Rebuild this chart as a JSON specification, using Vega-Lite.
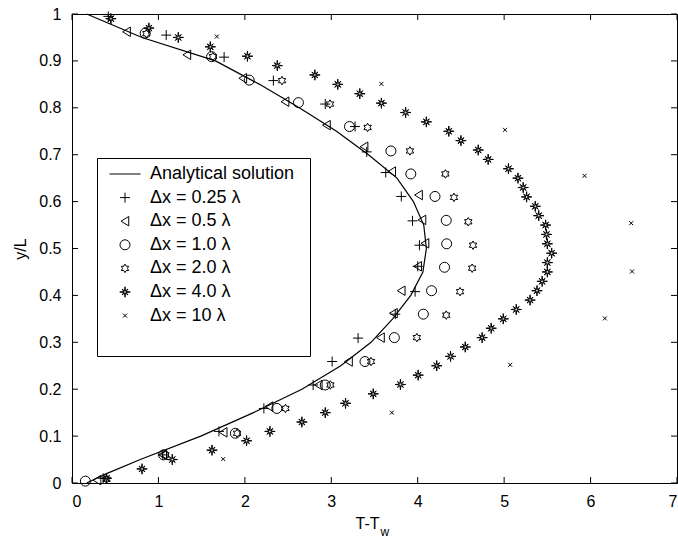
{
  "$schema": "https://vega.github.io/schema/vega-lite/v6.json",
  "width": 605,
  "height": 469,
  "autosize": {"type": "none"},
  "padding": {"left": 72, "top": 14, "right": 1, "bottom": 58},
  "background": "white",
  "config": {
    "font": "Liberation Sans",
    "view": {"stroke": "black", "strokeWidth": 1},
    "scale": {"continuousPadding": 0},
    "axis": {
      "domain": false,
      "ticks": false,
      "tickSize": 0,
      "grid": false,
      "labelColor": "black",
      "labelFontSize": 16,
      "labelFont": "Liberation Sans",
      "titleFont": "Liberation Sans",
      "titleFontSize": 16,
      "titleFontWeight": "normal",
      "titleColor": "black"
    }
  },
  "datasets": {
    "xticks": [{"v": 0}, {"v": 1}, {"v": 2}, {"v": 3}, {"v": 4}, {"v": 5}, {"v": 6}, {"v": 7}],
    "yticks": [{"v": 0}, {"v": 0.1}, {"v": 0.2}, {"v": 0.3}, {"v": 0.4}, {"v": 0.5}, {"v": 0.6}, {"v": 0.7}, {"v": 0.8}, {"v": 0.9}, {"v": 1}],
    "curve": [
      {"x": 0.17, "y": 0}, {"x": 0.40, "y": 0.02}, {"x": 0.79, "y": 0.05}, {"x": 1.49, "y": 0.1},
      {"x": 2.10, "y": 0.15}, {"x": 2.66, "y": 0.2}, {"x": 3.11, "y": 0.25}, {"x": 3.46, "y": 0.3},
      {"x": 3.71, "y": 0.35}, {"x": 3.92, "y": 0.4}, {"x": 4.06, "y": 0.45}, {"x": 4.10, "y": 0.5},
      {"x": 4.07, "y": 0.55}, {"x": 3.95, "y": 0.6}, {"x": 3.76, "y": 0.65}, {"x": 3.43, "y": 0.7},
      {"x": 3.06, "y": 0.75}, {"x": 2.63, "y": 0.8}, {"x": 2.17, "y": 0.85}, {"x": 1.66, "y": 0.9},
      {"x": 0.81, "y": 0.95}, {"x": 0.17, "y": 1}
    ],
    "pts": [
      {"series": "Δx = 0.25 λ", "x": 0.36, "y": 0.01},
      {"series": "Δx = 0.25 λ", "x": 1.05, "y": 0.06},
      {"series": "Δx = 0.25 λ", "x": 1.70, "y": 0.11},
      {"series": "Δx = 0.25 λ", "x": 2.22, "y": 0.159},
      {"series": "Δx = 0.25 λ", "x": 2.79, "y": 0.209},
      {"series": "Δx = 0.25 λ", "x": 3.01, "y": 0.259},
      {"series": "Δx = 0.25 λ", "x": 3.31, "y": 0.309},
      {"series": "Δx = 0.25 λ", "x": 3.74, "y": 0.36},
      {"series": "Δx = 0.25 λ", "x": 3.97, "y": 0.408},
      {"series": "Δx = 0.25 λ", "x": 4.00, "y": 0.462},
      {"series": "Δx = 0.25 λ", "x": 4.02, "y": 0.507},
      {"series": "Δx = 0.25 λ", "x": 3.94, "y": 0.559},
      {"series": "Δx = 0.25 λ", "x": 3.81, "y": 0.611},
      {"series": "Δx = 0.25 λ", "x": 3.63, "y": 0.662},
      {"series": "Δx = 0.25 λ", "x": 3.41, "y": 0.706},
      {"series": "Δx = 0.25 λ", "x": 3.275, "y": 0.76},
      {"series": "Δx = 0.25 λ", "x": 2.93, "y": 0.808},
      {"series": "Δx = 0.25 λ", "x": 2.33, "y": 0.858},
      {"series": "Δx = 0.25 λ", "x": 1.76, "y": 0.908},
      {"series": "Δx = 0.25 λ", "x": 1.09, "y": 0.955},
      {"series": "Δx = 0.25 λ", "x": 0.42, "y": 0.995},

      {"series": "Δx = 0.5 λ", "x": 0.29, "y": 0.006},
      {"series": "Δx = 0.5 λ", "x": 1.05, "y": 0.06},
      {"series": "Δx = 0.5 λ", "x": 1.75, "y": 0.108},
      {"series": "Δx = 0.5 λ", "x": 2.28, "y": 0.163},
      {"series": "Δx = 0.5 λ", "x": 2.85, "y": 0.209},
      {"series": "Δx = 0.5 λ", "x": 3.20, "y": 0.259},
      {"series": "Δx = 0.5 λ", "x": 3.57, "y": 0.31},
      {"series": "Δx = 0.5 λ", "x": 3.72, "y": 0.362},
      {"series": "Δx = 0.5 λ", "x": 3.81, "y": 0.41},
      {"series": "Δx = 0.5 λ", "x": 4.00, "y": 0.462},
      {"series": "Δx = 0.5 λ", "x": 4.085, "y": 0.511},
      {"series": "Δx = 0.5 λ", "x": 4.05, "y": 0.561},
      {"series": "Δx = 0.5 λ", "x": 4.01, "y": 0.614},
      {"series": "Δx = 0.5 λ", "x": 3.70, "y": 0.664},
      {"series": "Δx = 0.5 λ", "x": 3.38, "y": 0.717},
      {"series": "Δx = 0.5 λ", "x": 2.945, "y": 0.763},
      {"series": "Δx = 0.5 λ", "x": 2.466, "y": 0.813},
      {"series": "Δx = 0.5 λ", "x": 1.977, "y": 0.863},
      {"series": "Δx = 0.5 λ", "x": 1.33, "y": 0.913},
      {"series": "Δx = 0.5 λ", "x": 0.632, "y": 0.962},

      {"series": "Δx = 1.0 λ", "x": 0.155, "y": 0.004},
      {"series": "Δx = 1.0 λ", "x": 1.06, "y": 0.06},
      {"series": "Δx = 1.0 λ", "x": 1.89, "y": 0.106},
      {"series": "Δx = 1.0 λ", "x": 2.37, "y": 0.159},
      {"series": "Δx = 1.0 λ", "x": 2.93, "y": 0.209},
      {"series": "Δx = 1.0 λ", "x": 3.39, "y": 0.259},
      {"series": "Δx = 1.0 λ", "x": 3.73, "y": 0.31},
      {"series": "Δx = 1.0 λ", "x": 4.065, "y": 0.36},
      {"series": "Δx = 1.0 λ", "x": 4.16, "y": 0.41},
      {"series": "Δx = 1.0 λ", "x": 4.31, "y": 0.46},
      {"series": "Δx = 1.0 λ", "x": 4.335, "y": 0.51},
      {"series": "Δx = 1.0 λ", "x": 4.33, "y": 0.56},
      {"series": "Δx = 1.0 λ", "x": 4.20, "y": 0.611},
      {"series": "Δx = 1.0 λ", "x": 3.92, "y": 0.659},
      {"series": "Δx = 1.0 λ", "x": 3.69, "y": 0.708},
      {"series": "Δx = 1.0 λ", "x": 3.21, "y": 0.76},
      {"series": "Δx = 1.0 λ", "x": 2.62, "y": 0.811},
      {"series": "Δx = 1.0 λ", "x": 2.05, "y": 0.859},
      {"series": "Δx = 1.0 λ", "x": 1.615, "y": 0.909},
      {"series": "Δx = 1.0 λ", "x": 0.847, "y": 0.959},

      {"series": "Δx = 2.0 λ", "x": 0.40, "y": 0.008},
      {"series": "Δx = 2.0 λ", "x": 1.08, "y": 0.06},
      {"series": "Δx = 2.0 λ", "x": 1.91, "y": 0.106},
      {"series": "Δx = 2.0 λ", "x": 2.47, "y": 0.159},
      {"series": "Δx = 2.0 λ", "x": 2.99, "y": 0.209},
      {"series": "Δx = 2.0 λ", "x": 3.46, "y": 0.259},
      {"series": "Δx = 2.0 λ", "x": 3.99, "y": 0.31},
      {"series": "Δx = 2.0 λ", "x": 4.33, "y": 0.358},
      {"series": "Δx = 2.0 λ", "x": 4.49, "y": 0.408},
      {"series": "Δx = 2.0 λ", "x": 4.63, "y": 0.458},
      {"series": "Δx = 2.0 λ", "x": 4.64, "y": 0.507},
      {"series": "Δx = 2.0 λ", "x": 4.585, "y": 0.557},
      {"series": "Δx = 2.0 λ", "x": 4.42, "y": 0.609},
      {"series": "Δx = 2.0 λ", "x": 4.32, "y": 0.659},
      {"series": "Δx = 2.0 λ", "x": 3.91, "y": 0.708},
      {"series": "Δx = 2.0 λ", "x": 3.42, "y": 0.758},
      {"series": "Δx = 2.0 λ", "x": 2.985, "y": 0.808},
      {"series": "Δx = 2.0 λ", "x": 2.43, "y": 0.858},
      {"series": "Δx = 2.0 λ", "x": 1.63, "y": 0.909},
      {"series": "Δx = 2.0 λ", "x": 0.86, "y": 0.958},

      {"series": "Δx = 4.0 λ", "x": 0.45, "y": 0.99},
      {"series": "Δx = 4.0 λ", "x": 0.89, "y": 0.97},
      {"series": "Δx = 4.0 λ", "x": 1.23, "y": 0.95},
      {"series": "Δx = 4.0 λ", "x": 1.60, "y": 0.93},
      {"series": "Δx = 4.0 λ", "x": 2.03, "y": 0.91},
      {"series": "Δx = 4.0 λ", "x": 2.375, "y": 0.89},
      {"series": "Δx = 4.0 λ", "x": 2.81, "y": 0.87},
      {"series": "Δx = 4.0 λ", "x": 3.075, "y": 0.85},
      {"series": "Δx = 4.0 λ", "x": 3.33, "y": 0.83},
      {"series": "Δx = 4.0 λ", "x": 3.58, "y": 0.81},
      {"series": "Δx = 4.0 λ", "x": 3.86, "y": 0.79},
      {"series": "Δx = 4.0 λ", "x": 4.10, "y": 0.77},
      {"series": "Δx = 4.0 λ", "x": 4.36, "y": 0.75},
      {"series": "Δx = 4.0 λ", "x": 4.50, "y": 0.73},
      {"series": "Δx = 4.0 λ", "x": 4.70, "y": 0.71},
      {"series": "Δx = 4.0 λ", "x": 4.815, "y": 0.69},
      {"series": "Δx = 4.0 λ", "x": 5.05, "y": 0.67},
      {"series": "Δx = 4.0 λ", "x": 5.16, "y": 0.65},
      {"series": "Δx = 4.0 λ", "x": 5.22, "y": 0.63},
      {"series": "Δx = 4.0 λ", "x": 5.26, "y": 0.61},
      {"series": "Δx = 4.0 λ", "x": 5.36, "y": 0.59},
      {"series": "Δx = 4.0 λ", "x": 5.40, "y": 0.57},
      {"series": "Δx = 4.0 λ", "x": 5.48, "y": 0.55},
      {"series": "Δx = 4.0 λ", "x": 5.49, "y": 0.53},
      {"series": "Δx = 4.0 λ", "x": 5.50, "y": 0.51},
      {"series": "Δx = 4.0 λ", "x": 5.55, "y": 0.49},
      {"series": "Δx = 4.0 λ", "x": 5.50, "y": 0.47},
      {"series": "Δx = 4.0 λ", "x": 5.50, "y": 0.45},
      {"series": "Δx = 4.0 λ", "x": 5.44, "y": 0.43},
      {"series": "Δx = 4.0 λ", "x": 5.38, "y": 0.41},
      {"series": "Δx = 4.0 λ", "x": 5.30, "y": 0.39},
      {"series": "Δx = 4.0 λ", "x": 5.14, "y": 0.37},
      {"series": "Δx = 4.0 λ", "x": 4.99, "y": 0.35},
      {"series": "Δx = 4.0 λ", "x": 4.85, "y": 0.33},
      {"series": "Δx = 4.0 λ", "x": 4.745, "y": 0.31},
      {"series": "Δx = 4.0 λ", "x": 4.55, "y": 0.29},
      {"series": "Δx = 4.0 λ", "x": 4.38, "y": 0.27},
      {"series": "Δx = 4.0 λ", "x": 4.22, "y": 0.25},
      {"series": "Δx = 4.0 λ", "x": 4.005, "y": 0.23},
      {"series": "Δx = 4.0 λ", "x": 3.80, "y": 0.21},
      {"series": "Δx = 4.0 λ", "x": 3.485, "y": 0.19},
      {"series": "Δx = 4.0 λ", "x": 3.165, "y": 0.17},
      {"series": "Δx = 4.0 λ", "x": 2.93, "y": 0.15},
      {"series": "Δx = 4.0 λ", "x": 2.66, "y": 0.13},
      {"series": "Δx = 4.0 λ", "x": 2.29, "y": 0.11},
      {"series": "Δx = 4.0 λ", "x": 2.02, "y": 0.09},
      {"series": "Δx = 4.0 λ", "x": 1.62, "y": 0.07},
      {"series": "Δx = 4.0 λ", "x": 1.16, "y": 0.05},
      {"series": "Δx = 4.0 λ", "x": 0.81, "y": 0.03},
      {"series": "Δx = 4.0 λ", "x": 0.40, "y": 0.01},

      {"series": "Δx = 10 λ", "x": 1.75, "y": 0.051},
      {"series": "Δx = 10 λ", "x": 3.70, "y": 0.15},
      {"series": "Δx = 10 λ", "x": 5.07, "y": 0.252},
      {"series": "Δx = 10 λ", "x": 6.165, "y": 0.351},
      {"series": "Δx = 10 λ", "x": 6.48, "y": 0.451},
      {"series": "Δx = 10 λ", "x": 6.47, "y": 0.554},
      {"series": "Δx = 10 λ", "x": 5.93, "y": 0.655},
      {"series": "Δx = 10 λ", "x": 5.01, "y": 0.753},
      {"series": "Δx = 10 λ", "x": 3.58, "y": 0.851},
      {"series": "Δx = 10 λ", "x": 1.676, "y": 0.952}
    ]
  },
  "resolve": {"axis": {"x": "independent", "y": "independent"}},
  "layer": [
    {
      "data": {"name": "curve"},
      "mark": {"type": "line", "color": "black", "strokeWidth": 1.2},
      "encoding": {
        "x": {
          "field": "x", "type": "quantitative",
          "scale": {"domain": [0, 7], "nice": false, "zero": false, "padding": 0},
          "axis": {"orient": "bottom", "title": "T-T", "values": [0, 1, 2, 3, 4, 5, 6, 7], "format": "d", "labelPadding": 10, "titleX": 295, "titleY": 45, "titleBaseline": "alphabetic"}
        },
        "y": {
          "field": "y", "type": "quantitative",
          "scale": {"domain": [0, 1], "nice": false, "zero": false, "padding": 0},
          "axis": {"orient": "left", "title": "y/L", "values": [0, 0.1, 0.2, 0.3, 0.4, 0.5, 0.6, 0.7, 0.8, 0.9, 1], "format": "~g", "labelPadding": 11, "titleX": -47, "titleBaseline": "alphabetic"}
        },
        "order": {"field": "y", "type": "quantitative"}
      }
    },
    {
      "data": {"name": "xticks"},
      "mark": {"type": "bar", "color": "black", "width": 1, "orient": "vertical"},
      "encoding": {
        "x": {"field": "v", "type": "quantitative", "axis": null},
        "y": {"datum": 0, "type": "quantitative", "axis": null},
        "y2": {"datum": 0.0128}
      }
    },
    {
      "data": {"name": "xticks"},
      "mark": {"type": "bar", "color": "black", "width": 1, "orient": "vertical"},
      "encoding": {
        "x": {"field": "v", "type": "quantitative", "axis": null},
        "y": {"datum": 1, "type": "quantitative", "axis": null},
        "y2": {"datum": 0.9872}
      }
    },
    {
      "data": {"name": "yticks"},
      "mark": {"type": "bar", "color": "black", "height": 1, "orient": "horizontal"},
      "encoding": {
        "y": {"field": "v", "type": "quantitative", "axis": null},
        "x": {"datum": 0, "type": "quantitative", "axis": null},
        "x2": {"datum": 0.069}
      }
    },
    {
      "data": {"name": "yticks"},
      "mark": {"type": "bar", "color": "black", "height": 1, "orient": "horizontal"},
      "encoding": {
        "y": {"field": "v", "type": "quantitative", "axis": null},
        "x": {"datum": 7, "type": "quantitative", "axis": null},
        "x2": {"datum": 6.931}
      }
    },
    {
      "data": {"name": "pts"},
      "mark": {"type": "point", "size": 100, "stroke": "black", "strokeWidth": 1, "opacity": 1},
      "encoding": {
        "x": {"field": "x", "type": "quantitative", "axis": null},
        "y": {"field": "y", "type": "quantitative", "axis": null},
        "shape": {
          "field": "series", "type": "nominal",
          "scale": {
            "domain": ["Analytical solution", "Δx = 0.25 λ", "Δx = 0.5 λ", "Δx = 1.0 λ", "Δx = 2.0 λ", "Δx = 4.0 λ", "Δx = 10 λ", " "],
            "range": [
              "M-3.1,0L3.1,0",
              "M-1,0L1,0M0,-1L0,1",
              "M-0.8,0L0.75,-0.95L0.75,0.95Z",
              "circle",
              "M0,-0.85L0.245,-0.424L0.736,-0.425L0.49,0L0.736,0.425L0.245,0.424L0,0.85L-0.245,0.424L-0.736,0.425L-0.49,0L-0.736,-0.425L-0.245,-0.424Z",
              "M1.05,0L0.2,0.08L0.6,0.6L0.08,0.2L0,1.05L-0.08,0.2L-0.6,0.6L-0.2,0.08L-1.05,0L-0.2,-0.08L-0.6,-0.6L-0.08,-0.2L0,-1.05L0.08,-0.2L0.6,-0.6L0.2,-0.08Z",
              "M-0.4,-0.4L0.4,0.4M-0.4,0.4L0.4,-0.4",
              "M0,0"
            ]
          },
          "legend": {
            "orient": "none", "legendX": 25, "legendY": 144,
            "title": "\u00a0", "titleOrient": "right", "titlePadding": 9, "titleFontSize": 18,
            "strokeColor": "black", "fillColor": "white", "padding": 7,
            "labelFontSize": 18, "labelFont": "Liberation Sans", "labelColor": "black",
            "symbolSize": 100, "symbolStrokeWidth": 1,
            "rowPadding": 5.6, "symbolOffset": 12, "labelOffset": 16
          }
        }
      }
    },
    {
      "data": {"values": [{"sub": "w"}]},
      "mark": {"type": "text", "font": "Liberation Sans", "fontSize": 12, "align": "center", "baseline": "alphabetic", "color": "black"},
      "encoding": {
        "x": {"datum": 3.62, "type": "quantitative", "axis": null},
        "y": {"datum": -0.113, "type": "quantitative", "axis": null},
        "text": {"field": "sub"}
      }
    }
  ]
}
